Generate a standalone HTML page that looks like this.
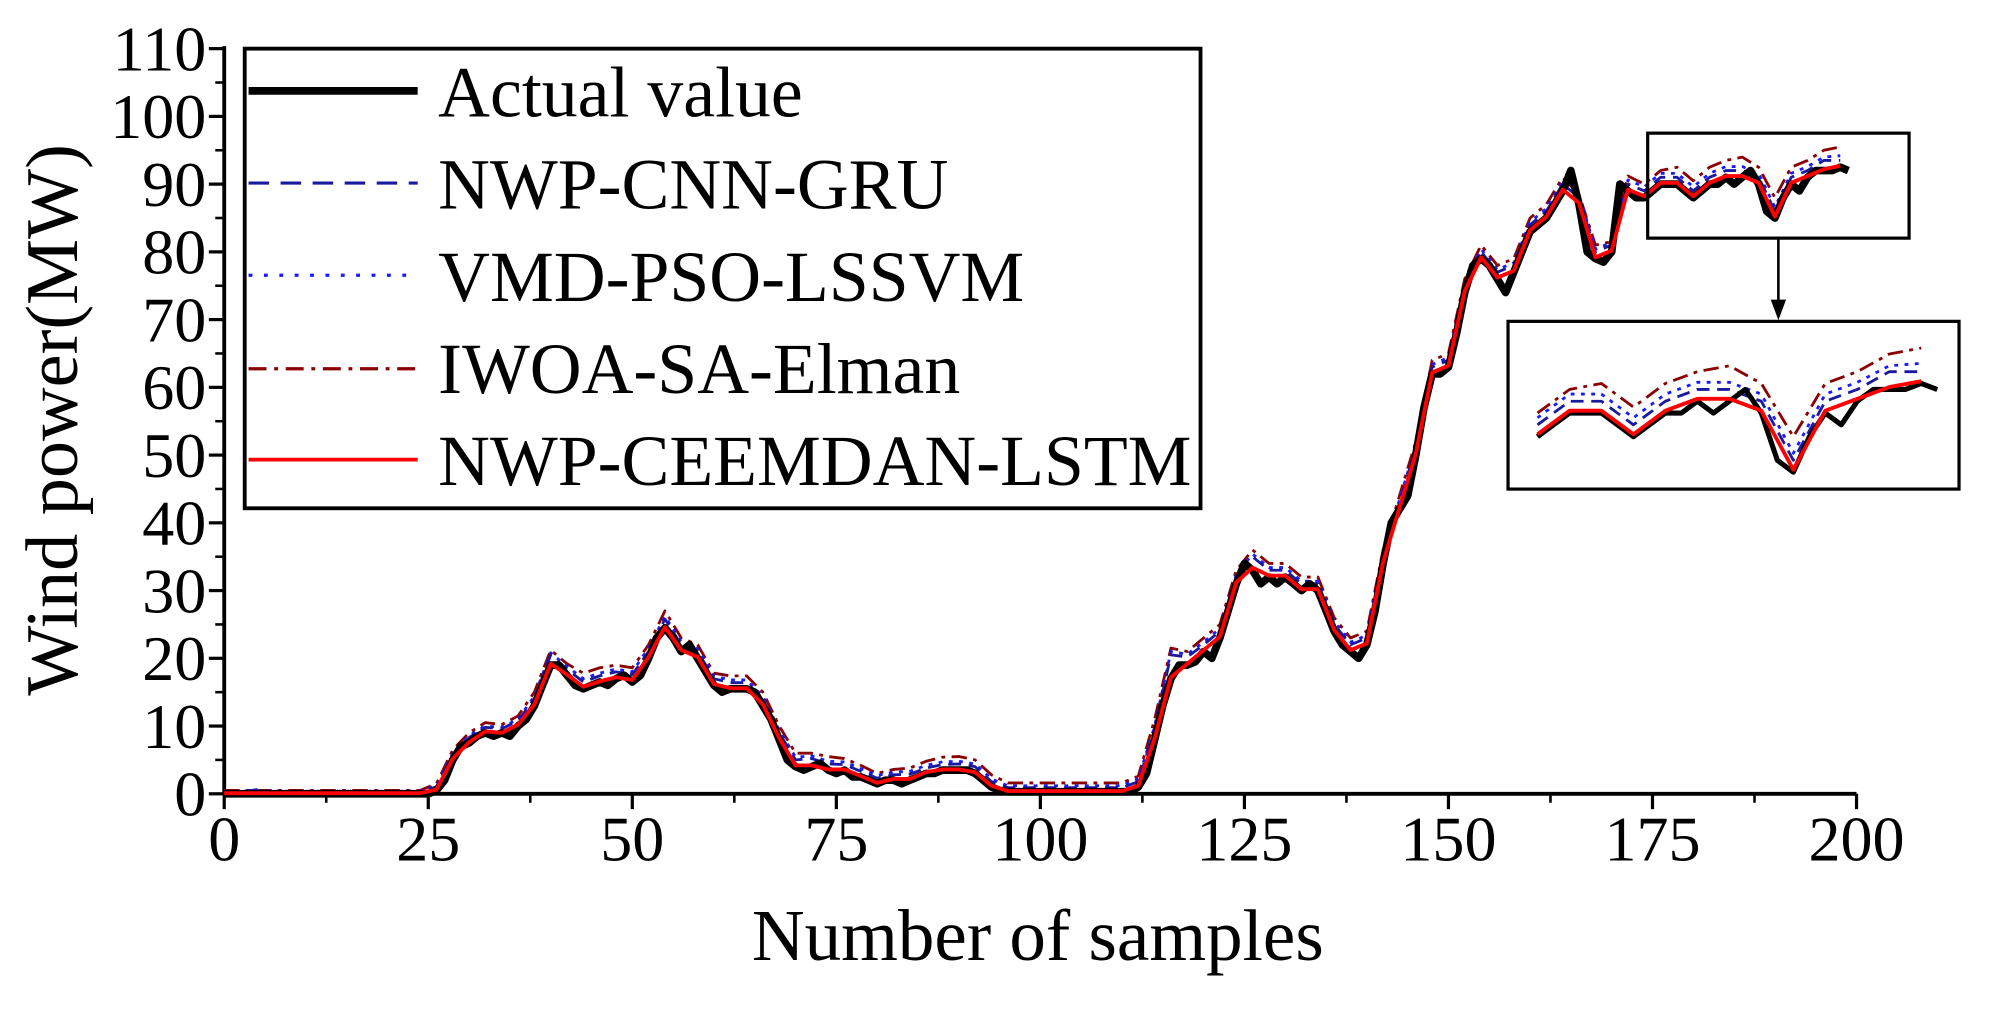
<!DOCTYPE html>
<html><head><meta charset="utf-8"><style>
html,body{margin:0;padding:0;background:#fff;}
svg{display:block;}
text{font-family:"Liberation Serif",serif;fill:#000;}
</style></head><body>
<svg id="chart" width="2009" height="1014" viewBox="0 0 1568 792" preserveAspectRatio="none" xmlns="http://www.w3.org/2000/svg">
<g id="axes"></g>
<g id="series"></g>
<g id="legend">
  <rect x="191" y="38" width="746" height="359" fill="#fff" stroke="#000" stroke-width="3"/>
  <line x1="194" y1="71" x2="326" y2="71" stroke="#000" stroke-width="6"/>
  <text x="342" y="91" font-size="56">Actual value</text>
  <line x1="194" y1="143" x2="326" y2="143" stroke="#1a1aa0" stroke-width="2.5" stroke-dasharray="16,9"/>
  <text x="342" y="163" font-size="56">NWP-CNN-GRU</text>
  <line x1="194" y1="215" x2="326" y2="215" stroke="#1a1aff" stroke-width="2.5" stroke-dasharray="3,9"/>
  <text x="342" y="235" font-size="56">VMD-PSO-LSSVM</text>
  <line x1="194" y1="288" x2="326" y2="288" stroke="#8b0000" stroke-width="2.5" stroke-dasharray="14,6,3,6"/>
  <text x="342" y="307" font-size="56">IWOA-SA-Elman</text>
  <line x1="194" y1="359" x2="326" y2="359" stroke="#ff0000" stroke-width="3"/>
  <text x="342" y="379" font-size="56">NWP-CEEMDAN-LSTM</text>
</g>
<text x="810" y="750" font-size="57" text-anchor="middle">Number of samples</text>
<text transform="translate(60,328) rotate(-90)" font-size="58" text-anchor="middle">Wind power(MW)</text>
<g id="inset">
  <rect x="1286" y="104" width="204" height="82" fill="none" stroke="#000" stroke-width="2.5"/>
  <line x1="1388" y1="186" x2="1388" y2="238" stroke="#000" stroke-width="2"/>
  <polygon points="1382,234 1394,234 1388,250" fill="#000"/>
  <rect x="1177" y="251" width="352" height="131" fill="#fff" stroke="#000" stroke-width="2.5"/>
  <g id="insetSeries"></g>
</g>
</svg>
<script>
const actual=[0,0,0,0,0,0,0,0,0,0,0,0,0,0,0,0,0,0,0,0,0,0,0,0,0,0,0.5,2,5,7,7.5,8.5,9,8.5,9,8.5,10,11,13,16,19,19,17.5,16,15.5,16,16.5,16,17,17.5,16.5,17.5,20,23,24.5,23,21,22,20,18,16,15,15.5,15.5,15.5,15,13,11,8,5,4,3.5,4,4.5,3.5,3,3.5,2.5,2.5,2,1.5,2,2,1.5,2,2.5,3,3,3.5,3.5,3.5,3.5,3,2,1,0.5,0.3,0.3,0.3,0.3,0.3,0.3,0.3,0.3,0.3,0.3,0.3,0.3,0.3,0.3,0.3,0.3,1,3,8,13,17,19,19,19.5,21,20,23,27,31,34,33,31,32,31,32,31,30,31,30,27,24,22,21,20,22,27,34,40,42,44,50,57,62,62,63,68,74,78,79,78,76,74,77,80,83,84,85,87,89,92,87,80,79,78.5,80,90,89,88,88,89,90,90,90,89,88,89,90,90,91,90,91,92,90,86,85,88,90,89,91,92,92,92,92.5,92];
const predStep=2;
const lstm=[0.1,0.1,0.1,0.1,0.1,0.1,0.1,0.1,0.1,0.1,0.1,0.1,0.1,0.6,5.2,7.6,9.2,9,10.2,13.2,19.2,17.6,15.8,16.6,17.2,16.8,20.2,24.6,21.2,20.2,16.2,15.6,15.6,13.2,8.2,4.2,4.2,3.6,3.6,2.6,1.6,2.2,2.2,3.2,3.6,3.6,3.2,1.2,0.4,0.4,0.4,0.4,0.4,0.4,0.4,0.4,1.2,8.2,17.2,19.2,21.2,23.2,31.2,33.4,32.2,32.2,30.2,30.2,24.2,21.2,22.2,34.2,42.2,50.2,62.2,63.2,74.2,79.2,76.2,77.2,83.2,85.2,89.2,87.2,79.2,80.2,89.2,88.2,90.2,90.2,88.2,90.2,91.2,91.2,90.2,85.2,90.2,91.2,92.2,92.7];
const gru=[0.3,0.3,0.6,0.3,0.3,0.3,0.3,0.3,0.3,0.3,0.3,0.3,0.3,1,5.8,8.3,9.8,9.6,10.8,14,20.5,18.4,16.5,17.4,18,17.6,21,25.8,22,21,17,16.4,16.4,14,9,5,5.2,4.4,4.3,3.3,2.3,2.8,2.9,3.8,4.3,4.4,4,1.8,0.9,0.9,0.9,0.9,0.9,0.9,0.9,0.9,1.8,9.5,20.5,20.2,22,24,32,35,33,33,31,31,25,22,23,35,43,51,63,64,75,80,77,78,84,86,90,88,80,81,90,89,91,91,89,91,92,92,91,86,91,92,93.5,93.5];
const lssvm=[0.4,0.4,0.5,0.4,0.4,0.4,0.4,0.4,0.4,0.4,0.4,0.4,0.4,1.2,6,8.6,10,9.8,11,14.4,20.8,18.8,17,17.8,18.4,18,21.5,26.2,22.4,21.4,17.4,16.8,16.8,14.4,9.4,5.4,5.6,4.8,4.7,3.7,2.7,3.2,3.3,4.2,4.7,4.8,4.4,2.2,1.2,1.2,1.2,1.2,1.2,1.2,1.2,1.2,2.2,10,21,20.6,22.4,24.4,32.4,35.4,33.4,33.4,31.4,31.4,25.4,22.4,23.4,35.4,43.4,51.4,63.4,64.4,75.4,80.4,77.4,78.4,84.4,86.4,90.4,88.4,80.4,81.4,90.6,89.6,91.6,91.6,89.6,91.6,92.6,92.6,91.6,86.6,91.6,92.6,94,94.2];
const elman=[0.5,0.5,0.5,0.5,0.5,0.5,0.5,0.5,0.5,0.5,0.5,0.5,0.5,1.5,6.5,9,10.5,10.2,11.5,15,21.2,19.2,17.8,18.6,19,18.6,22,27,23,22,17.8,17.4,17.4,15,10,6,6,5.5,5.2,4.2,3,3.6,3.8,4.8,5.4,5.5,5,2.8,1.6,1.6,1.6,1.6,1.6,1.6,1.6,1.6,2.6,11,21.5,21,23,25,33,36,34,34,32,32,26,23,24,36,44,52,64,65,76,81,78,79,85,87,91,88.5,81,81.5,91.2,90,92,92.5,90.5,92.5,93.5,94,92.5,88,92.5,93.5,95,95.5];
const xTicks=[0,25,50,75,100,125,150,175,200];
const yTicks=[0,10,20,30,40,50,60,70,80,90,100,110];

const NS='http://www.w3.org/2000/svg';
const X0=175,X1=1449,Y0=620,Y1=38;
const xs=s=>X0+(s/200)*(X1-X0);
const ys=v=>Y0-(v/110)*(Y0-Y1);
const IX0=1200,IX1=1512,IY0=378,IY1=258;
const ixs=s=>IX0+((s-174)/(199-174))*(IX1-IX0);
const iys=v=>IY0-((v-84)/(97-84))*(IY0-IY1);

function mk(tag,attrs,parent){const e=document.createElementNS(NS,tag);for(const k in attrs)e.setAttribute(k,attrs[k]);parent.appendChild(e);return e;}
const axes=document.getElementById('axes');
let ax=mk('line',{x1:X0,y1:Y0,x2:X0,y2:Y1-2,stroke:'#000','stroke-width':3},axes);


ax=mk('line',{x1:X0-1,y1:Y0,x2:X1,y2:Y0,stroke:'#000','stroke-width':3},axes);


yTicks.forEach(v=>{
  const t=mk('line',{x1:X0-12,y1:ys(v),x2:X0,y2:ys(v),stroke:'#000','stroke-width':2.5},axes);
  
  
  if(v<110){const m=mk('line',{x1:X0-7,y1:ys(v+5),x2:X0,y2:ys(v+5),stroke:'#000','stroke-width':2},axes);
  
  }
  const l=mk('text',{x:X0-14,y:ys(v)+17,'font-size':50,'text-anchor':'end'},axes);
  l.textContent=v;
  
  
});
xTicks.forEach(s=>{
  const t=mk('line',{x1:xs(s),y1:Y0,x2:xs(s),y2:Y0+12,stroke:'#000','stroke-width':2.5},axes);
  
  
  if(s<200){const m=mk('line',{x1:xs(s+12.5),y1:Y0,x2:xs(s+12.5),y2:Y0+7,stroke:'#000','stroke-width':2},axes);
  
  }
  const l=mk('text',{x:xs(s),y:Y0+52,'font-size':50,'text-anchor':'middle'},axes);
  l.textContent=s;
  
  
});

const seriesDefs=[
 {name:'elman',data:elman,step:predStep,stroke:'#8b0000',w:2.2,dash:'12,5,3,5'},
 {name:'lssvm',data:lssvm,step:predStep,stroke:'#1a1aff',w:2.2,dash:'3,5'},
 {name:'gru',data:gru,step:predStep,stroke:'#1a1aa0',w:2.2,dash:'10,6'},
 {name:'actual',data:actual,step:1,stroke:'#000',w:6,dash:''},
 {name:'lstm',data:lstm,step:predStep,stroke:'#ff0000',w:3,dash:''}
];
const sg=document.getElementById('series'), ig=document.getElementById('insetSeries');
seriesDefs.forEach(d=>{
  const pts=d.data.map((v,i)=>xs(i*d.step).toFixed(1)+','+ys(v).toFixed(1)).join(' ');
  const p=mk('polyline',{points:pts,fill:'none',stroke:d.stroke,'stroke-width':d.w,'stroke-linejoin':'round'},sg);
  if(d.dash)p.setAttribute('stroke-dasharray',d.dash);
  
  
  const ip=[];d.data.forEach((v,i)=>{const s=i*d.step;if(s>=174)ip.push(ixs(s).toFixed(1)+','+iys(v).toFixed(1));});
  const q=mk('polyline',{points:ip.join(' '),fill:'none',stroke:d.stroke,'stroke-width':d.name==='actual'?4:d.w,'stroke-linejoin':'round'},ig);
  if(d.dash)q.setAttribute('stroke-dasharray',d.dash);
  
  
});
</script>
</body></html>
